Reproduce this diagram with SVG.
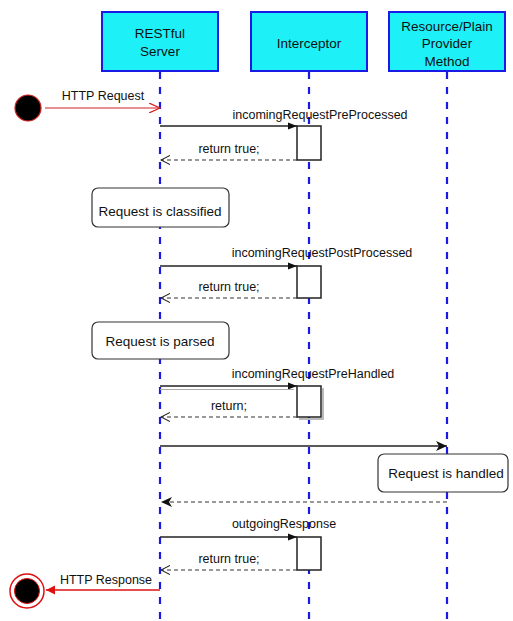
<svg xmlns="http://www.w3.org/2000/svg" width="513" height="621" viewBox="0 0 513 621">
<defs>
<style>
.hdr{fill:#1ef0f8;stroke:#1a1ae6;stroke-width:2}
.life{stroke:#1a1ae6;stroke-width:2.2;stroke-dasharray:7 8;fill:none}
.t{font-family:"Liberation Sans",Arial,sans-serif;fill:#111}
.h{font-size:13.5px;text-anchor:middle}
.m{font-size:12.5px;text-anchor:middle}
.call{stroke:#222;stroke-width:1.5;fill:none}
.ret{stroke:#333;stroke-width:1.1;stroke-dasharray:4 3;fill:none}
.act{fill:#fff;stroke:#222;stroke-width:1.5}
.note{fill:#fff;stroke:#333;stroke-width:1.2}
</style>
<marker id="fa" markerWidth="10" markerHeight="8" refX="9" refY="4" orient="auto" markerUnits="userSpaceOnUse">
<path d="M0,0.5 L9,4 L0,7.5 Z" fill="#111"/>
</marker>
<marker id="fb" markerWidth="12" markerHeight="10" refX="11" refY="5" orient="auto" markerUnits="userSpaceOnUse">
<path d="M0,0 L11,5 L0,10 L3,5 Z" fill="#111"/>
</marker>
<marker id="oa" markerWidth="10" markerHeight="10" refX="9" refY="5" orient="auto" markerUnits="userSpaceOnUse">
<path d="M0,0.5 L9,5 L0,9.5" fill="none" stroke="#222" stroke-width="1.1"/>
</marker>
<marker id="ra" markerWidth="12" markerHeight="10" refX="11" refY="5" orient="auto" markerUnits="userSpaceOnUse">
<path d="M0,0 L11,5 L0,10" fill="none" stroke="#d42020" stroke-width="1.2"/>
</marker>
<marker id="rf" markerWidth="10" markerHeight="10" refX="9" refY="5" orient="auto" markerUnits="userSpaceOnUse">
<path d="M0,0.5 L9,5 L0,9.5 Z" fill="#e01010"/>
</marker>
</defs>
<rect width="513" height="621" fill="#fff"/>

<g id="restful">
<line class="life" x1="160" y1="72" x2="160" y2="621"/>
<rect class="hdr" x="102" y="12" width="116" height="59"/>
<text class="t h" x="160" y="38">RESTful</text>
<text class="t h" x="160" y="56">Server</text>
</g>
<g id="interceptor">
<line class="life" x1="309" y1="72" x2="309" y2="621"/>
<rect class="hdr" x="251" y="12" width="116" height="59"/>
<text class="t h" x="309" y="48">Interceptor</text>
</g>
<g id="resource">
<line class="life" x1="447" y1="72" x2="447" y2="621"/>
<rect class="hdr" x="389" y="12" width="116" height="59"/>
<text class="t h" x="447" y="31">Resource/Plain</text>
<text class="t h" x="447" y="48">Provider</text>
<text class="t h" x="447" y="66">Method</text>
</g>

<g id="start">
<circle cx="28" cy="108" r="13" fill="#000" stroke="#d42020" stroke-width="1.2"/>
</g>
<g id="end">
<circle cx="27" cy="591" r="17" fill="#fff" stroke="#e01010" stroke-width="1.5"/>
<circle cx="27" cy="591" r="12.5" fill="#000" stroke="#e01010" stroke-width="1"/>
</g>

<g id="act1"><rect class="act" x="297" y="126" width="24" height="34"/></g>
<g id="act2"><rect class="act" x="297" y="266" width="24" height="32"/></g>
<g id="act3">
<path d="M323,388 V419 H299" fill="none" stroke="#bbb" stroke-width="2"/>
<rect class="act" x="297" y="386" width="24" height="31"/>
</g>
<g id="act4"><rect class="act" x="297" y="537" width="24" height="33"/></g>

<g id="note-classified">
<rect class="note" x="92" y="188" width="137" height="39" rx="6"/>
<text class="t h" x="160" y="216">Request is classified</text>
</g>
<g id="note-parsed">
<rect class="note" x="92" y="322" width="137" height="37" rx="6"/>
<text class="t h" x="160" y="346">Request is parsed</text>
</g>
<g id="note-handled">
<rect class="note" x="378" y="454" width="130" height="38" rx="6"/>
<text class="t h" x="446" y="478">Request is handled</text>
</g>

<g id="connectors">
<line x1="45" y1="108" x2="160" y2="108" stroke="#d42020" stroke-width="1.2" marker-end="url(#ra)"/>
<text class="t m" x="103" y="100">HTTP Request</text>

<line class="call" x1="160" y1="126" x2="297" y2="126" marker-end="url(#fa)"/>
<text class="t m" x="320" y="119">incomingRequestPreProcessed</text>
<line class="ret" x1="297" y1="160" x2="161" y2="160" marker-end="url(#oa)"/>
<text class="t m" x="229" y="153">return true;</text>

<line class="call" x1="160" y1="266" x2="297" y2="266" marker-end="url(#fa)"/>
<text class="t m" x="322" y="257">incomingRequestPostProcessed</text>
<line class="ret" x1="297" y1="298" x2="161" y2="298" marker-end="url(#oa)"/>
<text class="t m" x="229" y="291">return true;</text>

<line class="call" x1="160" y1="386" x2="297" y2="386" marker-end="url(#fa)"/>
<line x1="160" y1="389.5" x2="294" y2="389.5" stroke="#aaa" stroke-width="1"/>
<text class="t m" x="313" y="378">incomingRequestPreHandled</text>
<line class="ret" x1="297" y1="417" x2="161" y2="417" marker-end="url(#oa)"/>
<text class="t m" x="229" y="410">return;</text>

<line class="call" x1="160" y1="446" x2="447" y2="446" marker-end="url(#fb)"/>
<line class="ret" x1="447" y1="502" x2="161" y2="502" stroke="#222" marker-end="url(#fb)"/>

<line class="call" x1="160" y1="537" x2="297" y2="537" marker-end="url(#fa)"/>
<text class="t m" x="284" y="528">outgoingResponse</text>
<line class="ret" x1="297" y1="570" x2="161" y2="570" marker-end="url(#oa)"/>
<text class="t m" x="229" y="563">return true;</text>

<line x1="160" y1="590" x2="46" y2="590" stroke="#e01010" stroke-width="1.4" marker-end="url(#rf)"/>
<text class="t m" x="106" y="584">HTTP Response</text>
</g>
</svg>
